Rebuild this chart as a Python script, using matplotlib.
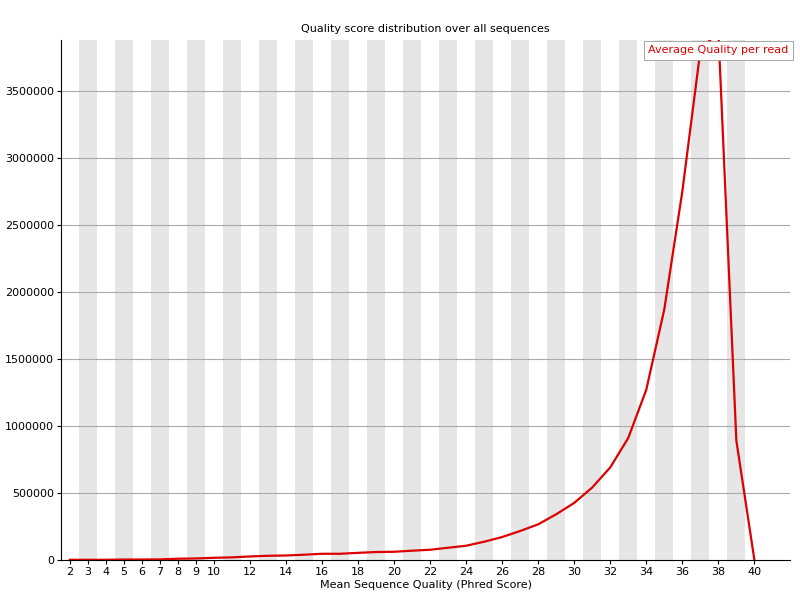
import matplotlib
matplotlib.use("Agg")
import matplotlib.pyplot as plt

quality = list(range(2, 41))
counts = [0, 0, 0, 2000, 2000, 3000, 8000, 10000, 15000, 18000, 25000, 30000, 32000,
          38000, 45000, 45000, 52000, 58000, 60000, 68000, 75000, 90000, 105000,
          135000, 170000, 215000, 265000, 340000, 425000, 540000, 690000, 910000,
          1270000, 1870000, 2750000, 3800000, 3950000, 890000, 0]
xtick_vals = [2, 3, 4, 5, 6, 7, 8, 9, 10, 12, 14, 16, 18, 20, 22, 24, 26, 28, 30, 32, 34, 36, 38, 40]
ytick_vals = [0, 500000, 1000000, 1500000, 2000000, 2500000, 3000000, 3500000]

fig = plt.figure(figsize=(8, 6), dpi=100)
ax = fig.add_axes([0.076, 0.067, 0.912, 0.866])
for q in quality:
    if q % 2 == 1:
        ax.axvspan(q - 0.5, q + 0.5, color="#e6e6e6", lw=0, zorder=0)
for y in ytick_vals[1:]:
    ax.axhline(y, color="#aaaaaa", lw=0.8, zorder=1)
ax.plot(quality, counts, color="#dd0000", lw=1.6, zorder=3)
ax.set_xlim(1.5, 42)
ax.set_ylim(0, 3880000)
ax.set_xticks(xtick_vals)
ax.set_xticklabels([str(v) for v in xtick_vals], fontsize=8)
ax.set_yticks(ytick_vals)
ax.set_yticklabels([str(v) for v in ytick_vals], fontsize=8)
for s in ["top", "right"]:
    ax.spines[s].set_visible(False)
ax.tick_params(length=3, pad=2)
ax.set_title("Quality score distribution over all sequences", fontsize=8)
ax.set_xlabel("Mean Sequence Quality (Phred Score)", fontsize=8, labelpad=2)
ax.text(0.997, 0.99, "Average Quality per read", transform=ax.transAxes, ha="right", va="top",
        color="#dd0000", fontsize=8, zorder=5,
        bbox=dict(facecolor="white", edgecolor="#999999", boxstyle="square,pad=0.4", lw=0.6))
fig.savefig("out.png")
